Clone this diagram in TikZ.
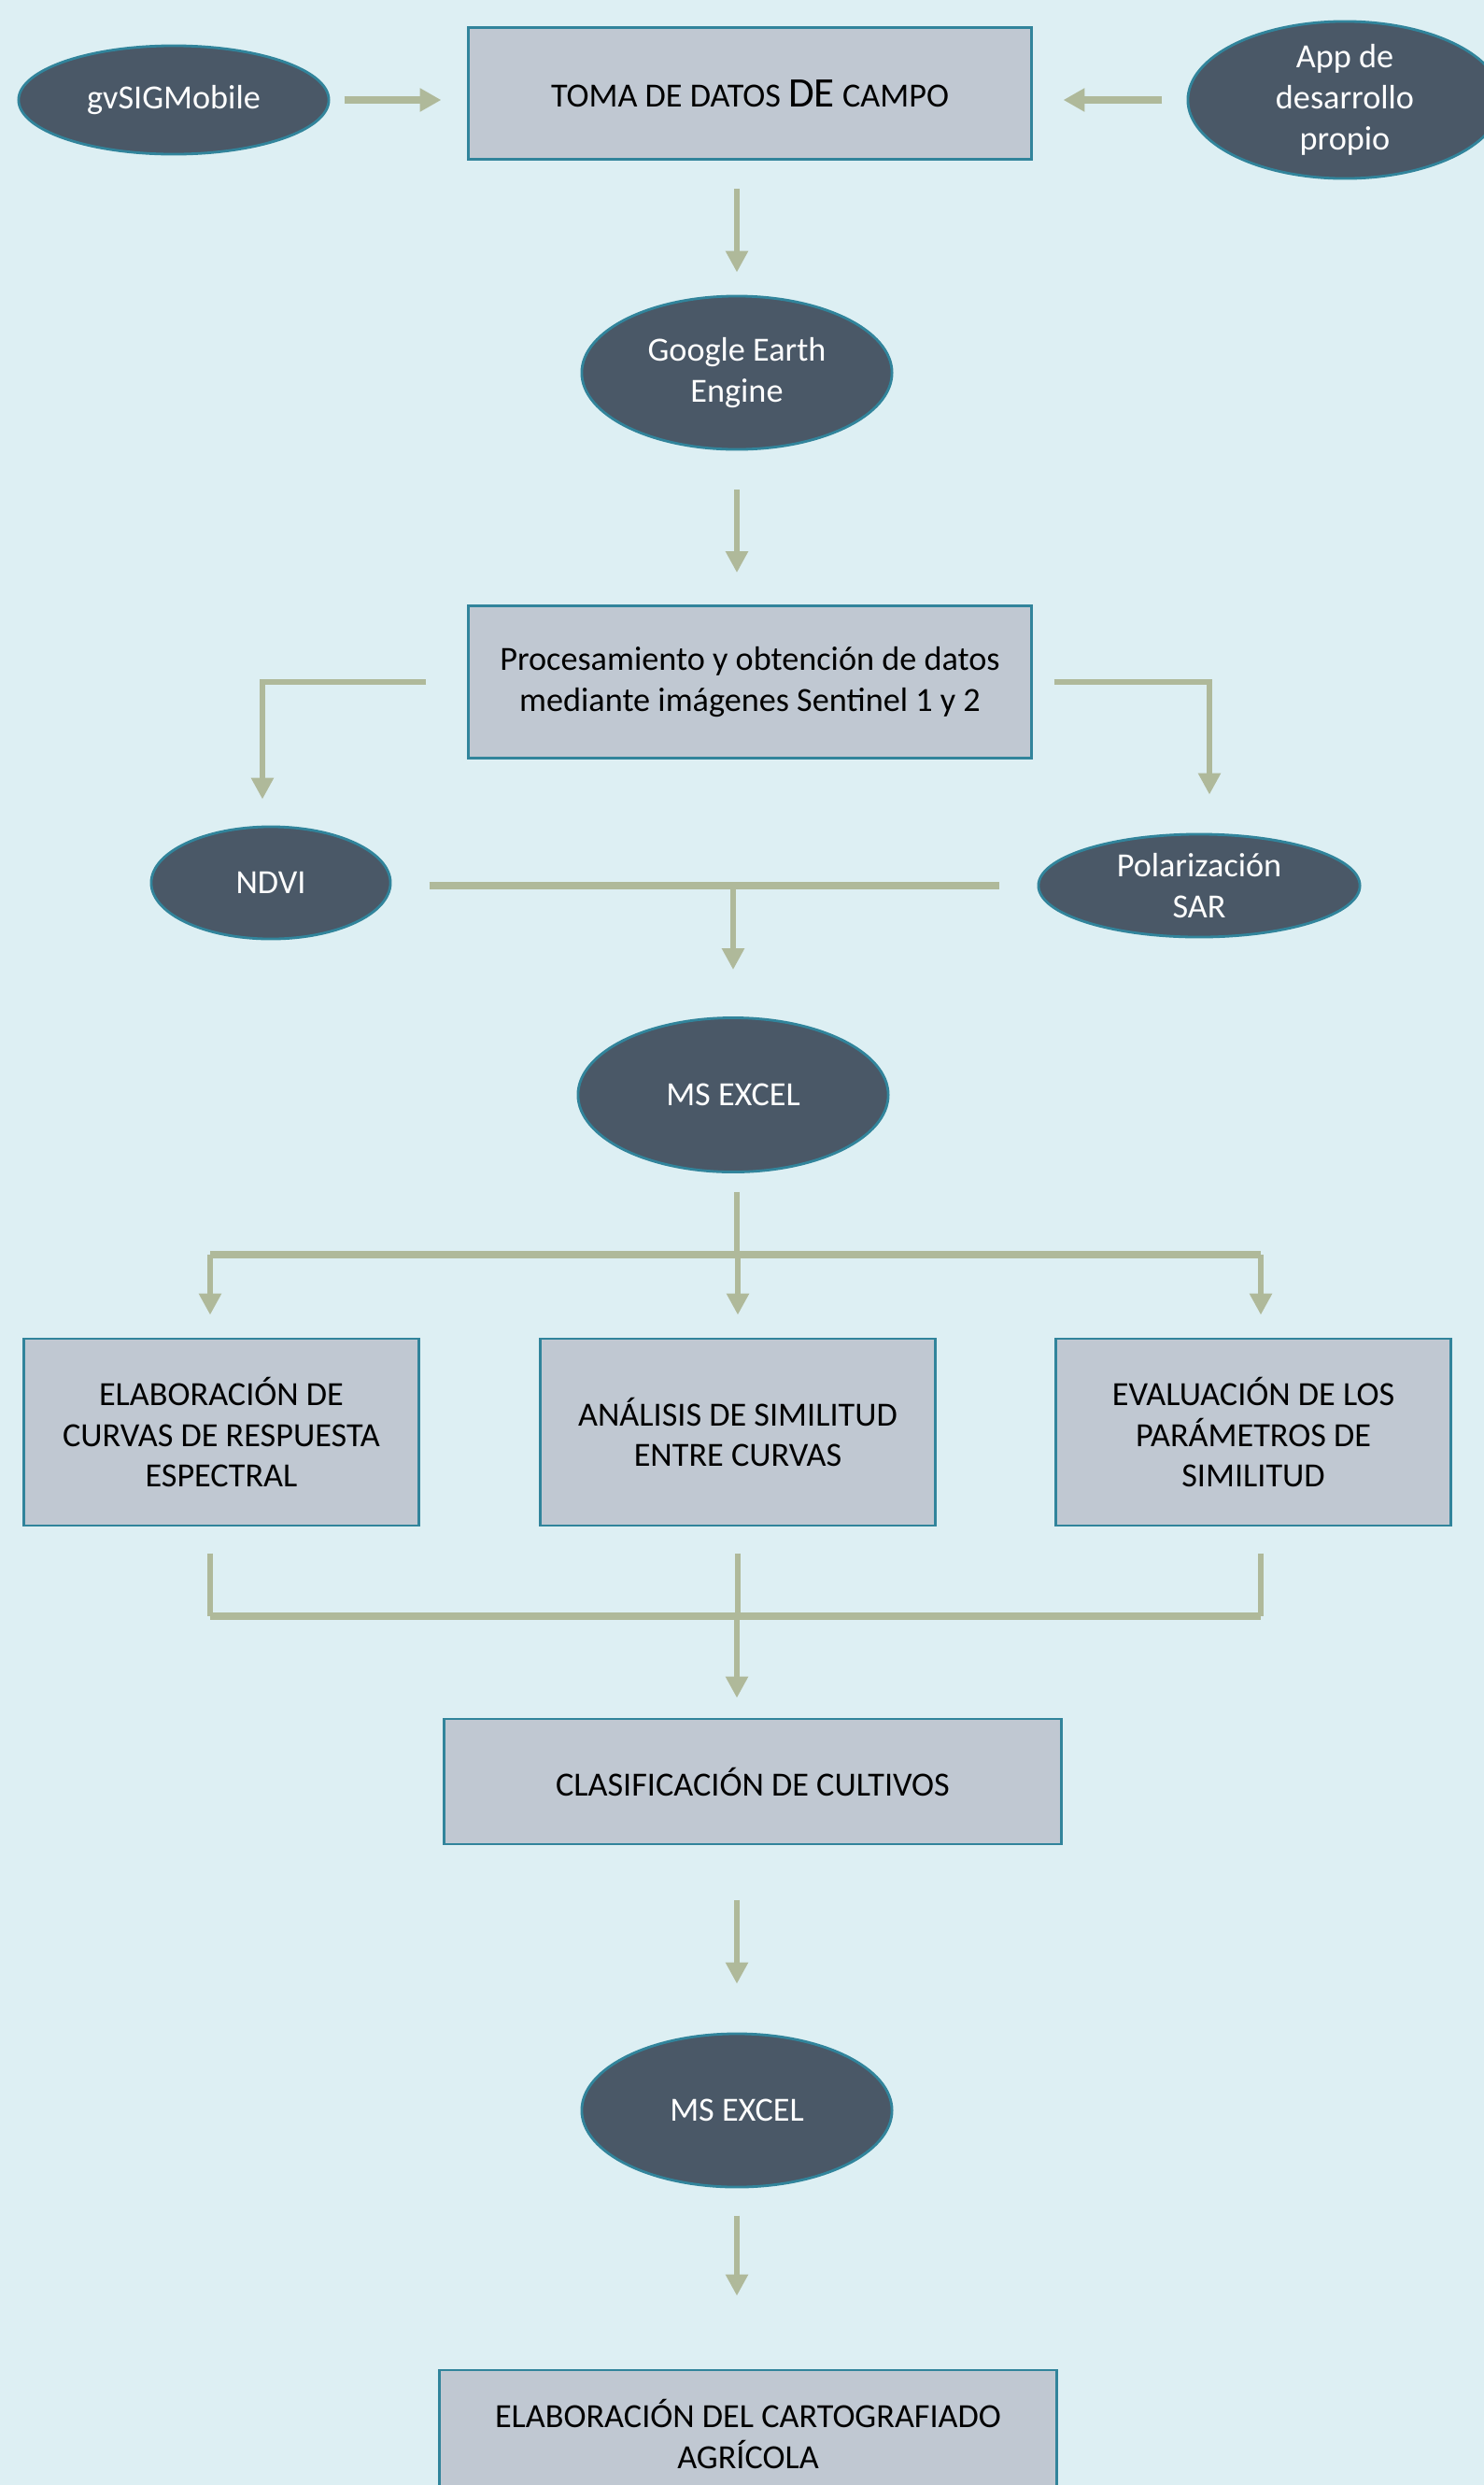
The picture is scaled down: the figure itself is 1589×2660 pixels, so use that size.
\documentclass[tikz,border=0pt]{standalone}
\usepackage{fontspec}
\setmainfont{Carlito}
\usetikzlibrary{shapes.geometric,arrows.meta}
\definecolor{fondo}{RGB}{221,239,243}
\definecolor{cajagris}{RGB}{192,200,210}
\definecolor{borde}{RGB}{49,132,155}
\definecolor{pizarra}{RGB}{74,88,103}
\definecolor{oliva}{RGB}{175,185,154}

\begin{document}
\begin{tikzpicture}
  [x=.01cm,y=-.01cm,
   every node/.style={font=\fontsize{10.3}{12.5}\selectfont,align=center,inner sep=0pt},
   caja/.style={rectangle,draw=borde,line width=.8pt,fill=cajagris,text=black},
   elipse/.style={ellipse,draw=borde,line width=.8pt,fill=pizarra,text=white},
   linea/.style={draw=oliva,line width=1.7pt},
   barra/.style={draw=oliva,line width=2.2pt},
   flecha/.style={linea,-{Triangle[length=6.5pt,width=6.5pt]}},
   gruesa/.style={draw=oliva,line width=2.3pt,-{Triangle[length=6.5pt,width=6.8pt]}}]
  \fill[fondo] (0,0) rectangle (1589,2660);
  \useasboundingbox (0,0) rectangle (1589,2660);

  \node[elipse,minimum width=3.32cm,minimum height=1.16cm] (gvsig) at (186,107) {gvSIGMobile};
  \node[caja,minimum width=6.02cm,minimum height=1.41cm] (toma) at (803,100)
    {TOMA DE DATOS {\fontsize{12.8}{12.5}\selectfont DE} CAMPO};
  \node[elipse,minimum width=3.36cm,minimum height=1.66cm] (app) at (1440,107) {App de\\desarrollo\\propio};
  \node[elipse,minimum width=3.32cm,minimum height=1.64cm] (gee) at (789,399) {Google Earth\\Engine};
  \node[caja,minimum width=6.02cm,minimum height=1.63cm] (proc) at (803,730)
    {Procesamiento y obtención de datos\\mediante imágenes Sentinel 1 y 2};
  \node[elipse,minimum width=2.56cm,minimum height=1.2cm] (ndvi) at (290,945) {NDVI};
  \node[elipse,minimum width=3.44cm,minimum height=1.1cm] (sar) at (1284,948) {Polarización\\SAR};
  \node[elipse,minimum width=3.32cm,minimum height=1.65cm] (excel1) at (785,1172) {MS EXCEL};
  \node[caja,minimum width=4.23cm,minimum height=2cm] (elab) at (237,1533)
    {ELABORACIÓN DE\\CURVAS DE RESPUESTA\\ESPECTRAL};
  \node[caja,minimum width=4.23cm,minimum height=2cm] (anal) at (790,1533)
    {ANÁLISIS DE SIMILITUD\\ENTRE CURVAS};
  \node[caja,minimum width=4.22cm,minimum height=2cm] (eval) at (1342,1533)
    {EVALUACIÓN DE LOS\\PARÁMETROS DE\\SIMILITUD};
  \node[caja,minimum width=6.61cm,minimum height=1.34cm] (clasif) at (806,1907) {CLASIFICACIÓN DE CULTIVOS};
  \node[elipse,minimum width=3.32cm,minimum height=1.64cm] (excel2) at (789,2259) {MS EXCEL};
  \node[caja,minimum width=6.61cm,minimum height=1.36cm] (carto) at (801,2605)
    {ELABORACIÓN DEL CARTOGRAFIADO\\AGRÍCOLA};

  \coordinate (split) at (789,1343);
  \coordinate (merge) at (789,1730);

  % entradas de campo
  \draw[gruesa,shorten <=.15cm,shorten >=.28cm] (gvsig.east) -- (gvsig.east -| toma.west);
  \draw[gruesa,shorten <=.26cm,shorten >=.33cm] (app.west) -- (app.west -| toma.east);

  \draw[flecha,shorten <=.3cm,shorten >=.24cm] (toma.south -| gee.north) -- (gee.north);
  \draw[flecha,shorten <=.42cm,shorten >=.34cm] (gee.south) -- (gee.south |- proc.north);
  \draw[flecha,shorten <=.44cm,shorten >=.28cm] (proc.west) -| ([xshift=-.09cm]ndvi.north);
  \draw[flecha,shorten <=.23cm,shorten >=.41cm] (proc.east) -| ([xshift=.11cm]sar.north);

  \draw[barra,shorten <=.4cm,shorten >=.4cm] (ndvi.east |- sar.west) -- (sar.west);
  \draw[flecha,shorten >=.5cm] (excel1.north |- sar.west) -- (excel1.north);

  % reparto hacia los tres analisis
  \draw[linea,shorten <=.2cm] (excel1.south -| split) -- (split);
  \draw[barra] ([xshift=-.12cm]split -| elab.north) -- ([xshift=.08cm]split -| eval.north);
  \foreach \b/\dx in {elab/-.12,anal/0,eval/.08}
    \draw[flecha,shorten >=.24cm] ([xshift=\dx cm]split -| \b.north) -- ([xshift=\dx cm]\b.north);

  % union hacia la clasificacion
  \foreach \b/\dx in {elab/-.12,anal/0,eval/.08}
    \draw[linea,shorten <=.28cm] ([xshift=\dx cm]\b.south) -- ([xshift=\dx cm]\b.south |- merge);
  \draw[barra] ([xshift=-.12cm]merge -| elab.south) -- ([xshift=.08cm]merge -| eval.south);
  \draw[flecha,shorten >=.21cm] (merge) -- (merge |- clasif.north);

  \draw[flecha,shorten <=.58cm,shorten >=.52cm] (clasif.south -| excel2.north) -- (excel2.north);
  \draw[flecha,shorten <=.29cm,shorten >=.78cm] (excel2.south) -- (excel2.south |- carto.north);

\end{tikzpicture}
\end{document}
